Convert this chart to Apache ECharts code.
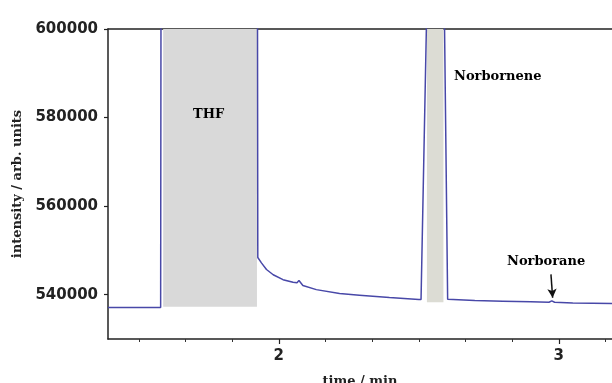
<!DOCTYPE html>
<html>
<head>
<meta charset="utf-8">
<script src="https://cdn.jsdelivr.net/npm/echarts@6/dist/echarts.min.js"></script>
<style>
html,body{margin:0;padding:0;background:#fff;}
#chart{width:612px;height:383px;}
</style>
</head>
<body>
<div id="chart"></div>
<script>
// ---- data ----
const timeMin = [1.39, 1.578, 1.581, 1.922, 1.925, 1.938, 1.956, 1.980, 2.015, 2.051, 2.065, 2.072, 2.086, 2.134, 2.217, 2.288, 2.395, 2.500, 2.508, 2.527, 2.530, 2.588, 2.592, 2.603, 2.610, 2.700, 2.800, 2.900, 2.965, 2.975, 2.985, 3.050, 3.190];
const intensity = [537100, 537100, 700000, 700000, 548400, 547200, 545700, 544500, 543400, 542800, 542700, 543200, 542100, 541150, 540250, 539900, 539350, 538900, 538900, 600000, 620000, 620000, 600000, 539000, 538850, 538700, 538550, 538400, 538300, 538600, 538300, 538150, 538000];
const yTickValues = [540000, 560000, 580000, 600000];
const xTickValues = [2, 3];
const xMinorTicks = [1.5, 1.6667, 1.8333, 2.1667, 2.3333, 2.5, 2.6667, 2.8333, 3.1667];
const thfRegion = {x: [1.587, 1.922], y: [537300, 600000]};
const norborneneRegion = {x: [2.529, 2.588], y: [538300, 600000]};
const norboraneArrow = {from: [2.972, 544600], to: [2.978, 539300]};

const lineColor = '#4848a8';
const sansBold = {fontFamily: 'DejaVu Sans', fontWeight: 'bold', fontSize: 15, color: '#222'};
const serifBold = {fontFamily: 'DejaVu Serif', fontWeight: 'bold', color: '#222'};

const chart = echarts.init(document.getElementById('chart'), null, {renderer: 'canvas'});
const seriesData = timeMin.map((t, i) => [t, intensity[i]]);
const plain = v => String(Math.round(v));

chart.setOption({
  animation: false,
  backgroundColor: '#ffffff',
  grid: {left: 108, right: 0, top: 29, bottom: 44, containLabel: false, outerBoundsMode: 'none'},
  xAxis: [
    {
      type: 'value', min: 1.39, max: 3.19, position: 'bottom',
      axisLine: {show: true, onZero: false, lineStyle: {color: '#222', width: 1.5}},
      axisTick: {show: true, length: 5, customValues: xTickValues, lineStyle: {color: '#222', width: 1.2}},
      axisLabel: Object.assign({customValues: xTickValues, margin: 10, formatter: plain}, sansBold),
      splitLine: {show: false},
      name: 'time / min', nameLocation: 'middle', nameGap: 36,
      nameTextStyle: Object.assign({fontSize: 13}, serifBold)
    },
    {
      type: 'value', min: 1.39, max: 3.19, position: 'bottom',
      axisLine: {show: false, onZero: false},
      axisTick: {show: true, length: 3, customValues: xMinorTicks, lineStyle: {color: '#333', width: 1}},
      axisLabel: {show: false},
      splitLine: {show: false}
    },
    {
      type: 'value', min: 1.39, max: 3.19, position: 'top',
      axisLine: {show: true, onZero: false, lineStyle: {color: '#222', width: 1.5}},
      axisTick: {show: false}, axisLabel: {show: false}, splitLine: {show: false}
    }
  ],
  yAxis: {
    type: 'value', min: 530000, max: 600000,
    axisLine: {show: true, onZero: false, lineStyle: {color: '#222', width: 1.5}},
    axisTick: {show: true, length: 4, customValues: yTickValues, lineStyle: {color: '#222', width: 1.2}},
    axisLabel: Object.assign({customValues: yTickValues, margin: 10, formatter: plain}, sansBold),
    splitLine: {show: false},
    name: 'intensity / arb. units', nameLocation: 'middle', nameGap: 82, nameRotate: 90,
    nameTextStyle: Object.assign({fontSize: 13}, serifBold)
  },
  series: [{
    type: 'line',
    xAxisIndex: 0,
    data: seriesData,
    showSymbol: false,
    symbol: 'none',
    clip: true,
    z: 3,
    lineStyle: {color: lineColor, width: 1.5},
    markArea: {
      silent: true,
      z: 1,
      data: [
        [{xAxis: thfRegion.x[0], yAxis: thfRegion.y[0], itemStyle: {color: '#d9d9d9'}}, {xAxis: thfRegion.x[1], yAxis: thfRegion.y[1]}],
        [{xAxis: norborneneRegion.x[0], yAxis: norborneneRegion.y[0], itemStyle: {color: '#dcdcd4'}}, {xAxis: norborneneRegion.x[1], yAxis: norborneneRegion.y[1]}]
      ]
    },
    markLine: {
      silent: true,
      symbol: ['none', 'arrow'],
      symbolSize: [7, 9],
      label: {show: false},
      lineStyle: {color: '#111', width: 1.5, type: 'solid'},
      data: [[{coord: norboraneArrow.from}, {coord: norboraneArrow.to}]]
    }
  }],
  graphic: [
    {type: 'text', z: 100, left: 193, top: 108, style: Object.assign({text: 'THF', fontSize: 13}, serifBold)},
    {type: 'text', z: 100, left: 454, top: 70, style: Object.assign({text: 'Norbornene', fontSize: 13}, serifBold)},
    {type: 'text', z: 100, left: 507, top: 255, style: Object.assign({text: 'Norborane', fontSize: 13}, serifBold)}
  ]
});
</script>
</body>
</html>
